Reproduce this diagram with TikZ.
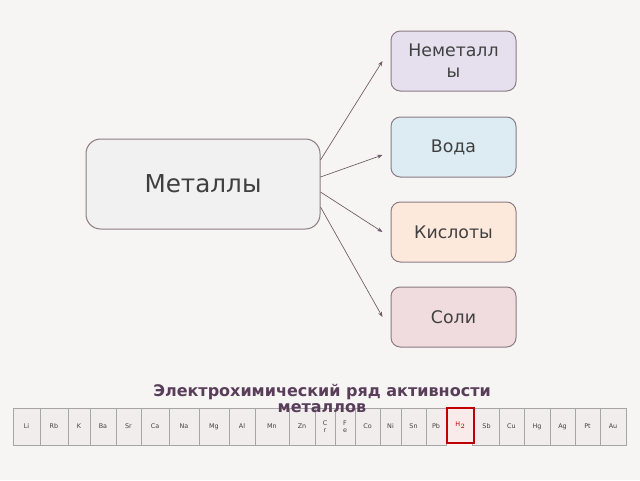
\documentclass[tikz,border=0pt]{standalone}
\usepackage{fontspec}
\setmainfont{DejaVu Sans}
\usetikzlibrary{arrows.meta}

\definecolor{bgcol}{RGB}{246,245,244}
\definecolor{edgecol}{RGB}{139,123,131}
\definecolor{arrcol}{RGB}{110,90,102}
\definecolor{txtcol}{RGB}{64,64,64}
\definecolor{titlecol}{RGB}{89,62,89}
\definecolor{metcol}{RGB}{242,241,242}
\definecolor{nemcol}{RGB}{230,224,238}
\definecolor{vodcol}{RGB}{220,236,242}
\definecolor{kislcol}{RGB}{253,233,220}
\definecolor{solcol}{RGB}{240,220,222}
\definecolor{cellcol}{RGB}{242,237,237}
\definecolor{hcol}{RGB}{192,0,0}

\begin{document}
\begin{tikzpicture}[x=0.75pt,y=-0.75pt,
    box/.style={draw=edgecol,line width=0.75pt,rounded corners=7pt,text=txtcol,
      minimum width=93.75pt,minimum height=45pt,inner sep=0pt,align=center,
      font=\fontsize{13}{15.5}\selectfont},
    cell/.style={draw=gray!70,line width=0.5pt,fill=cellcol,text=txtcol,
      minimum height=27.75pt,inner sep=0pt,outer sep=0pt,align=center,
      font=\fontsize{4.8}{5.5}\selectfont},
    link/.style={draw=arrcol,line width=0.5pt,-{Stealth[length=4pt,width=3pt]}}]
    \fill[bgcol] (0,0) rectangle (640,480);
    \useasboundingbox (0,0) rectangle (640,480);

    \node[box,fill=metcol,minimum width=175.5pt,minimum height=67.5pt,rounded corners=11pt,
      font=\fontsize{18.5}{22}\selectfont] (0) at (203,184) {Металлы};

    \node[box,fill=nemcol] (1) at (453.5,61) {Неметалл\\ы};
    \node[box,fill=vodcol] (2) at (453.5,147) {Вода};
    \node[box,fill=kislcol] (3) at (453.5,232) {Кислоты};
    \node[box,fill=solcol] (4) at (453.5,317) {Соли};

    \draw[link] ([yshift=18pt]0.east) -- ([xshift=-6pt]1.west);
    \draw[link] ([yshift=5.25pt]0.east) -- ([xshift=-6pt,yshift=-6pt]2.west);
    \draw[link] ([yshift=-6pt]0.east) -- ([xshift=-6pt]3.west);
    \draw[link] ([yshift=-17.25pt]0.east) -- ([xshift=-6pt]4.west);

    % activity series
    \node[cell,minimum width=20.25pt] (c1) at (26.5,426.5) {Li};
    \node[cell,minimum width=21pt] (c2) at (54,426.5) {Rb};
    \node[cell,minimum width=16.5pt] (c3) at (79,426.5) {K};
    \node[cell,minimum width=19.5pt] (c4) at (103,426.5) {Ba};
    \node[cell,minimum width=18.75pt] (c5) at (128.5,426.5) {Sr};
    \node[cell,minimum width=21pt] (c6) at (155,426.5) {Ca};
    \node[cell,minimum width=22.5pt] (c7) at (184,426.5) {Na};
    \node[cell,minimum width=22.5pt] (c8) at (214,426.5) {Mg};
    \node[cell,minimum width=19.5pt] (c9) at (242,426.5) {Al};
    \node[cell,minimum width=25.5pt] (c10) at (272,426.5) {Mn};
    \node[cell,minimum width=19.5pt] (c11) at (302,426.5) {Zn};
    \node[cell,minimum width=15pt] (c12) at (325,426.5) {C\\r};
    \node[cell,minimum width=15pt] (c13) at (345,426.5) {F\\e};
    \node[cell,minimum width=18.75pt] (c14) at (367.5,426.5) {Co};
    \node[cell,minimum width=15.75pt] (c15) at (390.5,426.5) {Ni};
    \node[cell,minimum width=18.75pt] (c16) at (413.5,426.5) {Sn};
    \node[cell,minimum width=15pt] (c17) at (436,426.5) {Pb};
    \node[cell,minimum width=21pt] (c19) at (486.5,426.5) {Sb};
    \node[cell,minimum width=18.75pt] (c20) at (511.5,426.5) {Cu};
    \node[cell,minimum width=19.5pt] (c21) at (537,426.5) {Hg};
    \node[cell,minimum width=18.75pt] (c22) at (562.5,426.5) {Ag};
    \node[cell,minimum width=18.75pt] (c23) at (587.5,426.5) {Pt};
    \node[cell,minimum width=19.5pt] (c24) at (613,426.5) {Au};
    \node[cell,minimum width=20.25pt,minimum height=26.25pt,draw=hcol,line width=1.5pt,
      fill=hcol!8,text=hcol] (c18) at (460.5,425.5) {H$_2$};

    \node[text=titlecol,align=center,inner sep=0pt,
      font=\fontsize{12}{12}\selectfont\bfseries] (t) at (322,398)
      {Электрохимический ряд активности\\металлов};
  \end{tikzpicture}
\end{document}
